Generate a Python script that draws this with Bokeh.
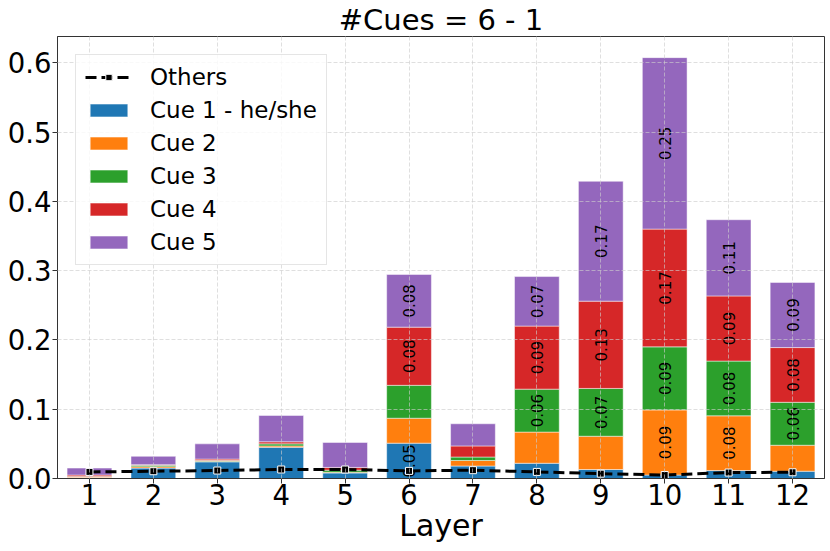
import math
from bokeh.plotting import figure
from bokeh.models import (ColumnDataSource, Range1d, FixedTicker, PrintfTickFormatter,
                          Legend, LegendItem)
from bokeh.core.properties import value
from bokeh.embed import file_html
from bokeh.resources import INLINE

# ---- data ----
layers = [1, 2, 3, 4, 5, 6, 7, 8, 9, 10, 11, 12]
cue1 = [0.001, 0.015, 0.024, 0.045, 0.008, 0.051, 0.018, 0.022, 0.013, 0.005, 0.0115, 0.0105]
cue2 = [0.001, 0.002, 0.001, 0.002, 0.001, 0.036, 0.008, 0.045, 0.048, 0.094, 0.079, 0.0375]
cue3 = [0.001, 0.002, 0.001, 0.003, 0.003, 0.0475, 0.005, 0.062, 0.069, 0.091, 0.079, 0.062]
cue4 = [0.002, 0.001, 0.002, 0.003, 0.004, 0.084, 0.016, 0.091, 0.126, 0.170, 0.094, 0.079]
cue5 = [0.010, 0.012, 0.022, 0.038, 0.036, 0.076, 0.032, 0.0715, 0.173, 0.2475, 0.110, 0.094]
others = [0.0095, 0.0105, 0.0115, 0.013, 0.013, 0.011, 0.012, 0.0095, 0.007, 0.005, 0.0086, 0.009]
cue_names = ["Cue 1 - he/she", "Cue 2", "Cue 3", "Cue 4", "Cue 5"]
y_ticks = [0.0, 0.1, 0.2, 0.3, 0.4, 0.5, 0.6]
title_text = "#Cues = 6 - 1"
x_label = "Layer"

colors = ["#1f77b4", "#ff7f0e", "#2ca02c", "#d62728", "#9467bd"]
FONT = "DejaVu Sans"
Y_MAX = 0.638

series = [cue1, cue2, cue3, cue4, cue5]
keys = ["c1", "c2", "c3", "c4", "c5"]
data = {"x": layers}
for k, s in zip(keys, series):
    data[k] = s
src = ColumnDataSource(data)

p = figure(frame_width=767, frame_height=442,
           x_range=Range1d(0.5, 12.5), y_range=Range1d(0, Y_MAX),
           output_backend="svg", toolbar_location=None,
           min_border_left=57, min_border_right=2, min_border_top=35, min_border_bottom=10)

p.title.text = title_text
p.title.align = "center"
p.title.text_font = FONT
p.title.text_font_size = "29px"
p.title.text_font_style = "normal"
p.title.text_color = "black"
p.title.standoff = 0
p.title.offset = 0

bars = p.vbar_stack(keys, x="x", width=0.7, source=src, color=colors,
                    line_color="white", line_width=0.8, line_alpha=0.6)

# value labels
lx, ly, lt = [], [], []
for s_idx, s in enumerate(series):
    for i, v in enumerate(s):
        base = sum(series[j][i] for j in range(s_idx))
        if v >= 0.05:
            lx.append(layers[i])
            ly.append(base + v / 2)
            lt.append(f"{v:.2f}")
p.text(x=lx, y=ly, text=lt, angle=math.pi / 2, text_align="center", text_baseline="middle",
       text_font=value(FONT), text_font_size="15px", text_color="black")

ln = p.line(layers, others, line_color="black", line_width=3, line_dash="11 5")
sc = p.scatter(layers, others, marker="square", size=7, fill_color="black",
               line_color="white", line_width=1)

legend = Legend(items=[LegendItem(label="Others", renderers=[ln, sc])] +
                [LegendItem(label=n, renderers=[b]) for n, b in zip(cue_names, bars)],
                location="top_left")
legend.margin = 18
legend.padding = 9
legend.spacing = 7
legend.glyph_width = 47
legend.glyph_height = 16
legend.label_standoff = 18
legend.label_text_font = FONT
legend.label_text_font_size = "23px"
legend.label_text_color = "black"
legend.border_line_color = "#cccccc"
legend.border_line_width = 1
legend.background_fill_alpha = 0.8
p.add_layout(legend)

# axes
p.xaxis.ticker = FixedTicker(ticks=layers)
p.yaxis.ticker = FixedTicker(ticks=y_ticks)
p.yaxis.formatter = PrintfTickFormatter(format="%.1f")
for ax in (p.xaxis[0], p.yaxis[0]):
    ax.major_label_text_font = FONT
    ax.major_label_text_font_size = "27.5px"
    ax.major_label_text_color = "black"
    ax.axis_line_color = "#333333"
    ax.major_tick_line_color = "#333333"
    ax.major_tick_out = 5
    ax.major_tick_in = 0
    ax.minor_tick_line_color = None
    ax.major_label_standoff = 1
p.xaxis.major_label_standoff = 0
p.xaxis.axis_label = x_label
p.xaxis.axis_label_text_font = FONT
p.xaxis.axis_label_text_font_size = "30px"
p.xaxis.axis_label_text_font_style = "normal"
p.xaxis.axis_label_text_color = "black"
p.xaxis.axis_label_standoff = 0

p.outline_line_color = "#333333"
p.outline_line_width = 1

for g in (p.xgrid[0], p.ygrid[0]):
    g.grid_line_color = "#cccccc"
    g.grid_line_alpha = 0.8
    g.grid_line_dash = "4 2"
    g.grid_line_width = 0.8
    g.level = "annotation"

open("out.html", "w").write(file_html(p, INLINE))
